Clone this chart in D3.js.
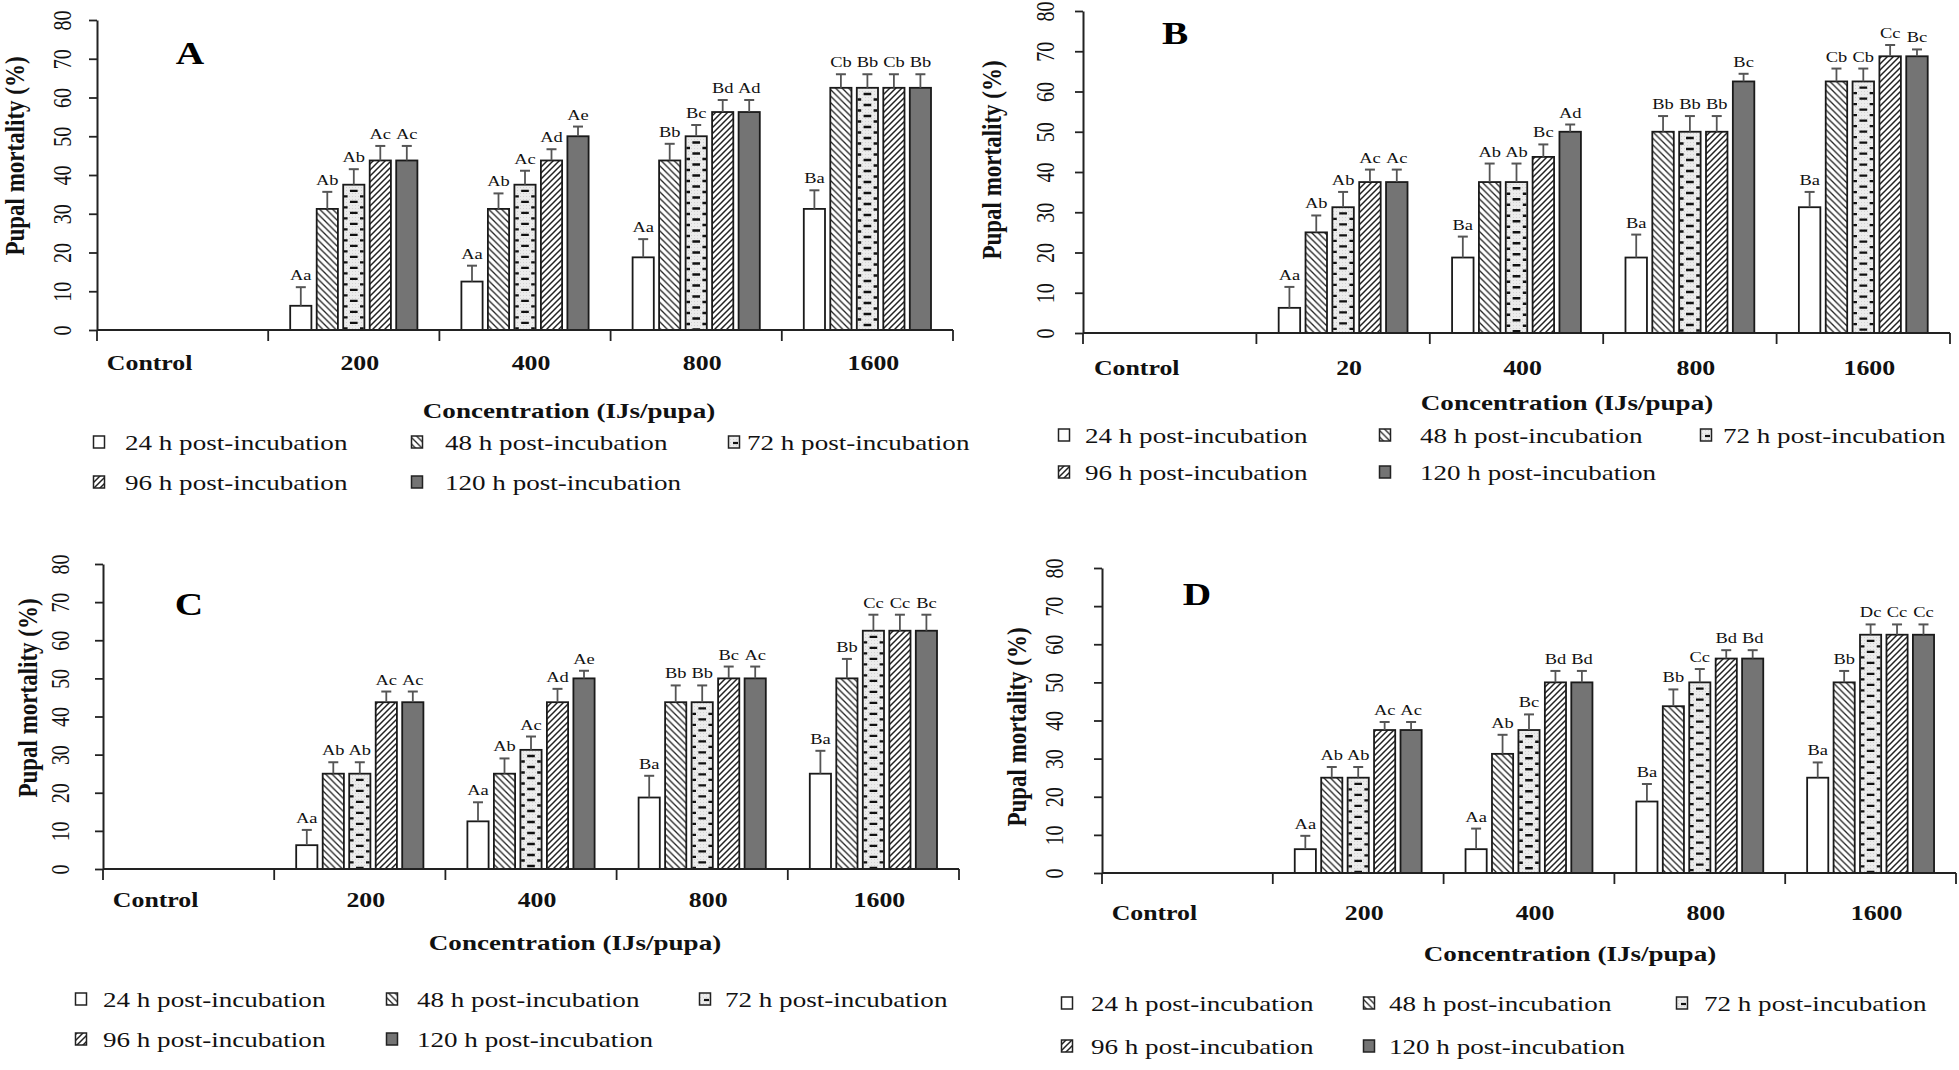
<!DOCTYPE html>
<html>
<head>
<meta charset="utf-8">
<script src="https://cdn.jsdelivr.net/npm/d3@7"></script>
<style>
  html, body { margin: 0; padding: 0; background: #fff; }
  svg { display: block; }
</style>
</head>
<body>
<svg id="chart" width="1959" height="1070"></svg>
<script>
// ---------------- DATA ----------------
const series = ["24 h post-incubation", "48 h post-incubation", "72 h post-incubation",
                "96 h post-incubation", "120 h post-incubation"];
const yTicks = [0, 10, 20, 30, 40, 50, 60, 70, 80];
const panelLetters = ["A", "B", "C", "D"];
const xTitle = "Concentration (IJs/pupa)";
const yTitle = "Pupal mortality (%)";

const categoriesA = ["Control", "200", "400", "800", "1600"];
const categoriesB = ["Control", "20", "400", "800", "1600"];
const categoriesC = ["Control", "200", "400", "800", "1600"];
const categoriesD = ["Control", "200", "400", "800", "1600"];

// means[series][category]
const meansA = [
  [0, 6.25, 12.5, 18.75, 31.25],
  [0, 31.25, 31.25, 43.75, 62.5],
  [0, 37.5, 37.5, 50, 62.5],
  [0, 43.75, 43.75, 56.25, 62.5],
  [0, 43.75, 50, 56.25, 62.5]
];
const errA = [
  [0, 4.8, 4.1, 4.7, 4.8],
  [0, 4.4, 4.0, 4.3, 3.5],
  [0, 4.0, 3.6, 2.9, 3.5],
  [0, 3.75, 2.9, 3.1, 3.5],
  [0, 3.75, 2.5, 3.1, 3.5]
];
const lettersA = [
  ["", "Aa", "Aa", "Aa", "Ba"],
  ["", "Ab", "Ab", "Bb", "Cb"],
  ["", "Ab", "Ac", "Bc", "Bb"],
  ["", "Ac", "Ad", "Bd", "Cb"],
  ["", "Ac", "Ae", "Ad", "Bb"]
];

const meansB = [
  [0, 6.25, 18.75, 18.75, 31.25],
  [0, 25, 37.5, 50, 62.5],
  [0, 31.25, 37.5, 50, 62.5],
  [0, 37.5, 43.75, 50, 68.75],
  [0, 37.5, 50, 62.5, 68.75]
];
const errB = [
  [0, 5.2, 5.2, 5.7, 3.8],
  [0, 4.2, 4.6, 3.9, 3.2],
  [0, 3.8, 4.6, 3.9, 3.2],
  [0, 3.1, 3.1, 3.9, 2.8],
  [0, 3.1, 1.8, 1.9, 1.7]
];
const lettersB = [
  ["", "Aa", "Ba", "Ba", "Ba"],
  ["", "Ab", "Ab", "Bb", "Cb"],
  ["", "Ab", "Ab", "Bb", "Cb"],
  ["", "Ac", "Bc", "Bb", "Cc"],
  ["", "Ac", "Ad", "Bc", "Bc"]
];

const meansC = [
  [0, 6.25, 12.5, 18.75, 25],
  [0, 25, 25, 43.75, 50],
  [0, 25, 31.25, 43.75, 62.5],
  [0, 43.75, 43.75, 50, 62.5],
  [0, 43.75, 50, 50, 62.5]
];
const errC = [
  [0, 4.0, 5.0, 5.7, 6.0],
  [0, 3.0, 4.0, 4.4, 5.1],
  [0, 3.0, 3.5, 4.4, 4.2],
  [0, 2.8, 3.5, 3.1, 4.2],
  [0, 2.8, 2.0, 3.1, 4.2]
];
const lettersC = [
  ["", "Aa", "Aa", "Ba", "Ba"],
  ["", "Ab", "Ab", "Bb", "Bb"],
  ["", "Ab", "Ac", "Bb", "Cc"],
  ["", "Ac", "Ad", "Bc", "Cc"],
  ["", "Ac", "Ae", "Ac", "Bc"]
];

const meansD = [
  [0, 6.25, 6.25, 18.75, 25],
  [0, 25, 31.25, 43.75, 50],
  [0, 25, 37.5, 50, 62.5],
  [0, 37.5, 50, 56.25, 62.5],
  [0, 37.5, 50, 56.25, 62.5]
];
const errD = [
  [0, 3.5, 5.4, 4.6, 4.0],
  [0, 2.8, 5.0, 4.4, 3.0],
  [0, 2.8, 4.1, 3.5, 2.7],
  [0, 2.1, 3.0, 2.2, 2.7],
  [0, 2.1, 3.0, 2.2, 2.7]
];
const lettersD = [
  ["", "Aa", "Aa", "Ba", "Ba"],
  ["", "Ab", "Ab", "Bb", "Bb"],
  ["", "Ab", "Bc", "Cc", "Dc"],
  ["", "Ac", "Bd", "Bd", "Cc"],
  ["", "Ac", "Bd", "Bd", "Cc"]
];

// ---------------- LAYOUT ----------------
const SX = 1.23;   // horizontal stretch of the original figure's text
const FONT = "'Liberation Serif', 'Times New Roman', serif";

const panels = [
  { letter: panelLetters[0], cats: categoriesA, means: meansA, errs: errA, labels: lettersA,
    ax: 97, right: 953, y0: 330, yTop: 20, tickLX: 63, titleX: 15, titleY: 156, catY: 363,
    xTitleX: 569, xTitleY: 410, legY: [442, 482], swX: [99, 417, 734], txX: [125, 445, 747], letterPos: [190, 53] },
  { letter: panelLetters[1], cats: categoriesB, means: meansB, errs: errB, labels: lettersB,
    ax: 1083, right: 1950, y0: 333, yTop: 11, tickLX: 1046, titleX: 992, titleY: 160, catY: 368,
    xTitleX: 1567, xTitleY: 402, legY: [435, 472], swX: [1064, 1385, 1706], txX: [1085, 1420, 1723], letterPos: [1175, 33] },
  { letter: panelLetters[2], cats: categoriesC, means: meansC, errs: errC, labels: lettersC,
    ax: 103, right: 959, y0: 869, yTop: 564, tickLX: 61, titleX: 28, titleY: 698, catY: 900,
    xTitleX: 575, xTitleY: 942, legY: [999, 1039], swX: [81, 392, 705], txX: [103, 417, 725], letterPos: [189, 604] },
  { letter: panelLetters[3], cats: categoriesD, means: meansD, errs: errD, labels: lettersD,
    ax: 1102, right: 1956, y0: 873, yTop: 568, tickLX: 1055, titleX: 1017, titleY: 727, catY: 913,
    xTitleX: 1570, xTitleY: 953, legY: [1003, 1046], swX: [1067, 1369, 1682], txX: [1091, 1389, 1704], letterPos: [1197, 594] }
];

const svg = d3.select("#chart");

// ---------------- PATTERNS ----------------
const defs = svg.append("defs");
const p48 = defs.append("pattern").attr("id", "p48").attr("patternUnits", "userSpaceOnUse")
  .attr("width", 6.5).attr("height", 6.5);
p48.append("rect").attr("width", 6.5).attr("height", 6.5).attr("fill", "#fff");
p48.append("path").attr("d", "M0,0L6.5,6.5M-1,5.5L1,7.5M5.5,-1L7.5,1")
  .attr("stroke", "#222").attr("stroke-width", 1.3);

const p96 = defs.append("pattern").attr("id", "p96").attr("patternUnits", "userSpaceOnUse")
  .attr("width", 6).attr("height", 6);
p96.append("rect").attr("width", 6).attr("height", 6).attr("fill", "#fff");
p96.append("path").attr("d", "M0,6L6,0M-1,1L1,-1M5,7L7,5")
  .attr("stroke", "#222").attr("stroke-width", 1.5);

const p72 = defs.append("pattern").attr("id", "p72").attr("patternUnits", "userSpaceOnUse")
  .attr("width", 3).attr("height", 3);
p72.append("rect").attr("width", 3).attr("height", 3).attr("fill", "#ececec");
p72.append("rect").attr("x", 1).attr("y", 1).attr("width", 1).attr("height", 1).attr("fill", "#d4d4d4");

const fills = ["#ffffff", "url(#p48)", "url(#p72)", "url(#p96)", "#747474"];

// ---------------- HELPERS ----------------
function text(g, x, y, str, opt) {
  const t = g.append("text")
    .attr("transform", `translate(${x},${y}) scale(${SX},1)` + (opt.rotate ? " rotate(-90)" : ""))
    .attr("text-anchor", opt.anchor || "middle")
    .attr("dominant-baseline", opt.baseline || "central")
    .attr("font-family", FONT)
    .attr("font-size", opt.size)
    .attr("font-weight", opt.weight || "normal")
    .attr("fill", opt.fill || "#111")
    .text(str);
  return t;
}

function stripes72(g, x, w, yTop, yBot) {
  // short horizontal dashes (brick-like) inside 72 h bars
  const h = yBot - yTop;
  if (h <= 4) return;
  g.append("line").attr("x1", x + w / 2).attr("x2", x + w / 2)
    .attr("y1", yTop + 3).attr("y2", yBot)
    .attr("stroke", "#111").attr("stroke-width", w * 0.36)
    .attr("stroke-dasharray", "2.4 8.6").attr("stroke-dashoffset", -2);
  [x + 2.6, x + w - 2.6].forEach(xx => {
    g.append("line").attr("x1", xx).attr("x2", xx)
      .attr("y1", yTop + 3).attr("y2", yBot)
      .attr("stroke", "#111").attr("stroke-width", 3.6)
      .attr("stroke-dasharray", "2.4 8.6").attr("stroke-dashoffset", -7.5);
  });
}

// ---------------- DRAW PANELS ----------------
panels.forEach(P => {
  const g = svg.append("g");
  const y = d3.scaleLinear().domain([0, 80]).range([P.y0, P.yTop]);
  const x0 = d3.scaleBand().domain(P.cats).range([P.ax, P.right]).padding(0);
  const x1 = d3.scaleBand().domain(d3.range(series.length))
    .range([0, x0.bandwidth()]).paddingInner(0.2).paddingOuter(0.83);

  // bars
  P.cats.forEach((c, ci) => {
    series.forEach((s, si) => {
      const v = P.means[si][ci];
      if (v <= 0) return;
      const bx = x0(c) + x1(si), bw = x1.bandwidth();
      const top = y(v);
      g.append("rect").attr("x", bx).attr("y", top).attr("width", bw).attr("height", y(0) - top)
        .attr("fill", fills[si]).attr("stroke", "#1a1a1a").attr("stroke-width", 1.8);
      if (si === 2) stripes72(g, bx, bw, top, y(0));
      // error bar (upper only)
      const e = P.errs[si][ci];
      const cx = bx + bw / 2;
      const ey = y(v + e);
      g.append("line").attr("x1", cx).attr("x2", cx).attr("y1", top).attr("y2", ey)
        .attr("stroke", "#555").attr("stroke-width", 1.8);
      g.append("line").attr("x1", cx - 5).attr("x2", cx + 5).attr("y1", ey).attr("y2", ey)
        .attr("stroke", "#555").attr("stroke-width", 2);
      // significance letters
      text(g, cx, ey - 7, P.labels[si][ci], { size: 15, baseline: "alphabetic" });
    });
  });

  // y axis
  const yAxis = d3.axisLeft(y).tickValues(yTicks).tickSize(8).tickSizeOuter(0);
  const ya = g.append("g").attr("transform", `translate(${P.ax},0)`).call(yAxis);
  ya.select(".domain").attr("stroke", "#222").attr("stroke-width", 2);
  ya.selectAll(".tick line").attr("stroke", "#222").attr("stroke-width", 1.8);
  ya.selectAll(".tick text")
    .attr("x", null).attr("dy", null)
    .attr("transform", `translate(${P.tickLX - P.ax},0) scale(${SX},1) rotate(-90)`)
    .attr("text-anchor", "middle").attr("dominant-baseline", "central")
    .attr("font-family", FONT).attr("font-size", 20).attr("fill", "#111");

  // x axis line and category boundary ticks
  g.append("line").attr("x1", P.ax).attr("x2", P.right).attr("y1", y(0)).attr("y2", y(0))
    .attr("stroke", "#222").attr("stroke-width", 2.2);
  const bounds = P.cats.map(c => x0(c)).concat([P.right]);
  g.selectAll(null).data(bounds).enter().append("line")
    .attr("x1", d => d).attr("x2", d => d).attr("y1", y(0)).attr("y2", y(0) + 11)
    .attr("stroke", "#222").attr("stroke-width", 1.8);

  // category labels
  P.cats.forEach((c, ci) => {
    const cx = x0(c) + x0.bandwidth() / 2 + (ci === 0 ? -33 : 6);
    text(g, cx, P.catY, c, { size: 21, weight: "bold" });
  });

  // axis titles
  text(g, P.xTitleX, P.xTitleY, xTitle, { size: 22, weight: "bold" });
  text(g, P.titleX, P.titleY, yTitle, { size: 23, weight: "bold", rotate: true });

  // panel letter
  text(g, P.letterPos[0], P.letterPos[1], P.letter, { size: 32, weight: "bold", fill: "#000" });

  // legend
  series.forEach((s, si) => {
    const row = si < 3 ? 0 : 1, col = si < 3 ? si : si - 3;
    const sx = P.swX[col], sy = P.legY[row];
    g.append("rect").attr("x", sx - 5.5).attr("y", sy - 6).attr("width", 11).attr("height", 12)
      .attr("fill", fills[si]).attr("stroke", "#222").attr("stroke-width", 1.5);
    if (si === 2) {
      g.append("line").attr("x1", sx - 1).attr("x2", sx + 4).attr("y1", sy + 1).attr("y2", sy + 1)
        .attr("stroke", "#111").attr("stroke-width", 2.2);
    }
    text(g, P.txX[col], sy, s, { size: 22, anchor: "start" });
  });
});
</script>
</body>
</html>
